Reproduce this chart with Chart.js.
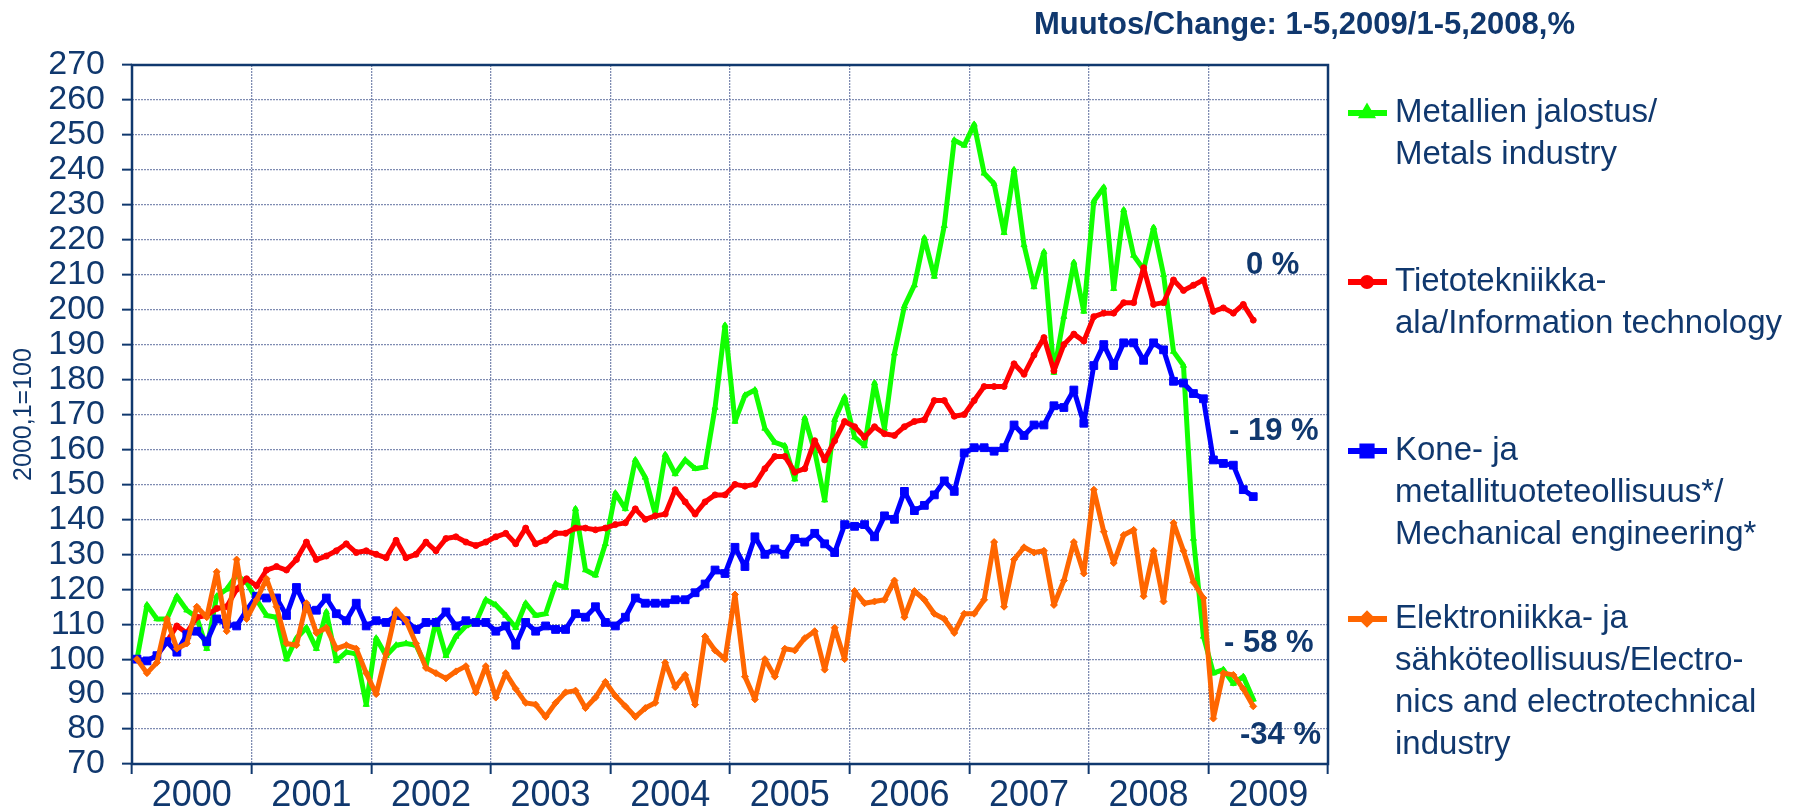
<!DOCTYPE html>
<html>
<head>
<meta charset="utf-8">
<title>Teknologiateollisuus</title>
<script src="https://cdn.jsdelivr.net/npm/chart.js@4.4.1/dist/chart.umd.min.js"></script>
<style>
  html, body { margin: 0; padding: 0; background: #fff; }
  #wrap { width: 1796px; height: 812px; }
</style>
</head>
<body>
<div id="wrap"><canvas id="lineChart" width="1796" height="812"></canvas></div>
<script>
// Data: monthly index, 2000,1 = 100 (Jan 2000 - May 2009)
const years = ['2000', '2001', '2002', '2003', '2004', '2005', '2006', '2007', '2008', '2009'];
const months = [];
years.forEach(y => { for (let m = 1; m <= 12; m++) months.push(y + '-' + m); });
months.length = 113;

const metals = [
    100, 115.5, 111.5, 111.5, 118, 114, 112, 103, 118, 120, 124, 122,
    117, 112.5, 112, 100, 106, 109, 103, 113.5, 99.5, 102, 101.5, 87,
    106, 101, 104, 104.5, 104, 98, 111, 101, 106.5, 109.5, 110.5, 117,
    115.5, 112.5, 109, 116, 112.5, 113, 121.5, 120.5, 143, 125.5, 124, 133,
    147.5, 143, 157, 152, 141.5, 158.5, 153, 157, 154.5, 155, 172, 195.5,
    168, 175.5, 177, 166, 162, 161, 151.5, 169, 159.5, 145.5, 168.5, 175,
    163.5, 161, 179, 166, 187.5, 201, 207, 220.5, 209.5, 224, 248.5, 247,
    253, 239, 236, 222, 240, 218.5, 206.5, 216.5, 182, 198, 213.5, 199.5,
    231, 235, 206, 228.5, 215.5, 211.5, 223.5, 210, 188, 184, 134.5, 106.5,
    96, 97, 93, 95, 88.5
];
const infoTech = [
    100, 99.5, 101, 105, 109.5, 107.5, 112, 112.5, 114.5, 115, 120, 123,
    121, 125.5, 126.5, 125.5, 128.5, 133.5, 128.5, 129.5, 131, 133, 130.5, 131,
    130, 129, 134, 129, 130, 133.5, 131, 134.5, 135, 133.5, 132.5, 133.5,
    135, 136, 133, 137.5, 133, 134, 136, 136, 137.5, 137.5, 137, 137.5,
    138.5, 139, 143, 140, 141, 141.5, 148.5, 145, 141.5, 145, 147, 147,
    150, 149.5, 150, 154.5, 158, 158, 153.5, 154.5, 162.5, 157, 162.5, 168,
    166.5, 163.5, 166.5, 164.5, 164, 166.5, 168, 168.5, 174, 174, 169.5, 170,
    174, 178, 178, 178, 184.5, 181.5, 187, 192, 182.5, 190, 193, 191,
    198, 199, 199, 202, 202, 212, 201.5, 202, 208.5, 205.5, 207, 208.5,
    199.5, 200.5, 199, 201.5, 197
];
const mechanical = [
    100, 99.5, 101, 105, 102, 107, 108, 105, 111.5, 110, 109.5, 114,
    118, 117.5, 117.5, 112.5, 120.5, 114.5, 114, 117.5, 113, 111, 116, 109.5,
    111, 110.5, 112.5, 111, 108.5, 110.5, 110.5, 113.5, 109.5, 111, 110.5, 110.5,
    108, 109.5, 104, 110.5, 108, 109.5, 108.5, 108.5, 113, 112, 115, 110.5,
    109.5, 112, 117.5, 116, 116, 116, 117, 117, 119, 121.5, 125.5, 124.5,
    132, 126.5, 135, 130, 131.5, 130, 134.5, 133.5, 136, 133, 130.5, 138.5,
    138, 138.5, 135, 141, 140, 148, 142.5, 144, 147, 151, 148, 159,
    160.5, 160.5, 159.5, 160.5, 167, 164, 167, 167, 172.5, 172, 177, 167.5,
    184, 190, 184, 190.5, 190.5, 185.5, 190.5, 188.5, 179.5, 179, 176, 174.5,
    157, 156, 155.5, 148.5, 146.5
];
const electronics = [
    100, 96, 99, 111.5, 103, 104.5, 115, 112, 125, 108, 128.5, 111.5,
    117, 123, 115, 104.5, 104, 116, 107.5, 109, 103, 104, 103, 96,
    90, 101.5, 114, 111, 104.5, 97.5, 96, 94.5, 96.5, 98, 90.5, 98,
    89, 96, 91.5, 87.5, 87, 83.5, 87.5, 90.5, 91, 86, 89, 93.5,
    89.5, 86.5, 83.5, 86, 87.5, 99, 92, 95.5, 87, 106.5, 102.5, 100,
    118.5, 95, 88.5, 100, 95, 103, 102.5, 106, 108, 97, 109, 100,
    119.5, 116, 116.5, 117, 122.5, 112, 119.5, 117, 113, 111.5, 107.5, 113,
    113, 117, 133.5, 115, 128.5, 132, 130.5, 131, 115.5, 122.5, 133.5, 124.5,
    148.5, 136.5, 127.5, 135.5, 137, 118, 131, 116.5, 139, 131, 122, 117.5,
    83, 96, 95.5, 91.5, 86.5
];

const seriesNames = [
    ['Metallien jalostus/', 'Metals industry'],
    ['Tietotekniikka-', 'ala/Information technology'],
    ['Kone- ja', 'metallituoteteollisuus*/', 'Mechanical engineering*'],
    ['Elektroniikka- ja', 'sähköteollisuus/Electro-', 'nics and electrotechnical', 'industry']
];
const changes = ['0 %', '- 19 %', '- 58 %', '-34 %'];
const titleText = 'Muutos/Change: 1-5,2009/1-5,2008,%';
const yTitle = '2000,1=100';

// Styles
const navy = '#10386e';
const gridColor = '#7f8cb2';
const font = "'Liberation Sans', Arial, sans-serif";
const colors = ['#11ff00', '#ff0000', '#0000ff', '#ff6600'];
const styles = ['triangle', 'circle', 'rect', 'rectRot'];
const radii = [3.5, 3, 5.5, 3.5];

const toPoints = arr => arr.map((v, i) => ({ x: i + 0.5, y: v }));

function makeSet(i, data, order) {
    return {
        label: seriesNames[i].join(' '),
        data: toPoints(data),
        borderColor: colors[i],
        backgroundColor: colors[i],
        borderWidth: 5,
        borderJoinStyle: 'round',
        borderCapStyle: 'round',
        pointStyle: styles[i],
        pointRadius: radii[i],
        pointBorderWidth: 1,
        tension: 0,
        order: order
    };
}

// Frame, title, change labels and legend
const decor = {
    id: 'decor',
    beforeDatasetsDraw(chart) {
        const { ctx, chartArea: a } = chart;
        ctx.save();
        ctx.strokeStyle = navy;
        ctx.lineWidth = 2.5;
        ctx.strokeRect(a.left, a.top, a.right - a.left, a.bottom - a.top);
        ctx.restore();
    },
    afterDraw(chart) {
        const ctx = chart.ctx;
        ctx.save();
        ctx.fillStyle = navy;
        ctx.textBaseline = 'middle';

        ctx.font = 'bold 31px ' + font;
        ctx.textAlign = 'right';
        ctx.fillText(titleText, 1575, 25);

        ctx.textAlign = 'left';
        const labelPos = [[1246, 265], [1229, 431], [1224, 643], [1240, 735]];
        changes.forEach((t, i) => ctx.fillText(t, labelPos[i][0], labelPos[i][1]));

        // legend
        const itemY = [113, 282, 451, 619];
        ctx.font = '33px ' + font;
        seriesNames.forEach((lines, i) => {
            const y = itemY[i];
            ctx.strokeStyle = colors[i];
            ctx.lineWidth = 6;
            ctx.beginPath();
            ctx.moveTo(1348, y);
            ctx.lineTo(1387, y);
            ctx.stroke();
            if (Chart.helpers && Chart.helpers.drawPoint) {
                ctx.fillStyle = colors[i];
                Chart.helpers.drawPoint(ctx, { pointStyle: styles[i], radius: radii[i] + 1, rotation: 0, borderWidth: 1 }, 1367, y);
            }
            ctx.fillStyle = navy;
            lines.forEach((t, k) => ctx.fillText(t, 1395, y + k * 42));
        });
        ctx.restore();
    }
};

new Chart(document.getElementById('lineChart'), {
    type: 'line',
    data: {
        datasets: [
            makeSet(0, metals, 4),
            makeSet(1, infoTech, 3),
            makeSet(2, mechanical, 2),
            makeSet(3, electronics, 1)
        ]
    },
    options: {
        responsive: false,
        animation: false,
        layout: { padding: { left: 0, top: 65, right: 468, bottom: 0 } },
        plugins: {
            legend: { display: false },
            tooltip: { enabled: false }
        },
        scales: {
            x: {
                type: 'linear',
                min: 0,
                max: 120,
                afterBuildTicks: s => {
                    s.ticks = [];
                    for (let v = 0; v <= 120; v += 6) s.ticks.push({ value: v });
                },
                afterFit: s => { s.height = 48; },
                ticks: {
                    autoSkip: false,
                    maxRotation: 0,
                    minRotation: 0,
                    padding: 0,
                    color: navy,
                    font: { family: font, size: 36 },
                    callback: v => (v % 12 === 6 ? years[(v - 6) / 12] : '')
                },
                grid: {
                    color: c => (c.tick && c.tick.value % 12 === 0 ? gridColor : 'transparent'),
                    tickColor: c => (c.tick && c.tick.value % 12 === 0 ? navy : 'transparent'),
                    lineWidth: 1.3,
                    tickWidth: 2,
                    tickLength: 10
                },
                border: { display: false, dash: [2, 1] }
            },
            y: {
                min: 70,
                max: 270,
                afterFit: s => { s.width = 132; },
                ticks: {
                    stepSize: 10,
                    autoSkip: false,
                    padding: 17,
                    color: navy,
                    font: { family: font, size: 34 }
                },
                grid: {
                    color: gridColor,
                    tickColor: navy,
                    lineWidth: 1.3,
                    tickWidth: 2,
                    tickLength: 10
                },
                border: { display: false, dash: [2, 1] },
                title: {
                    display: true,
                    text: yTitle,
                    color: navy,
                    font: { family: font, size: 25 },
                    padding: { top: 9, bottom: 0 }
                }
            }
        }
    },
    plugins: [decor]
});
</script>
</body>
</html>
